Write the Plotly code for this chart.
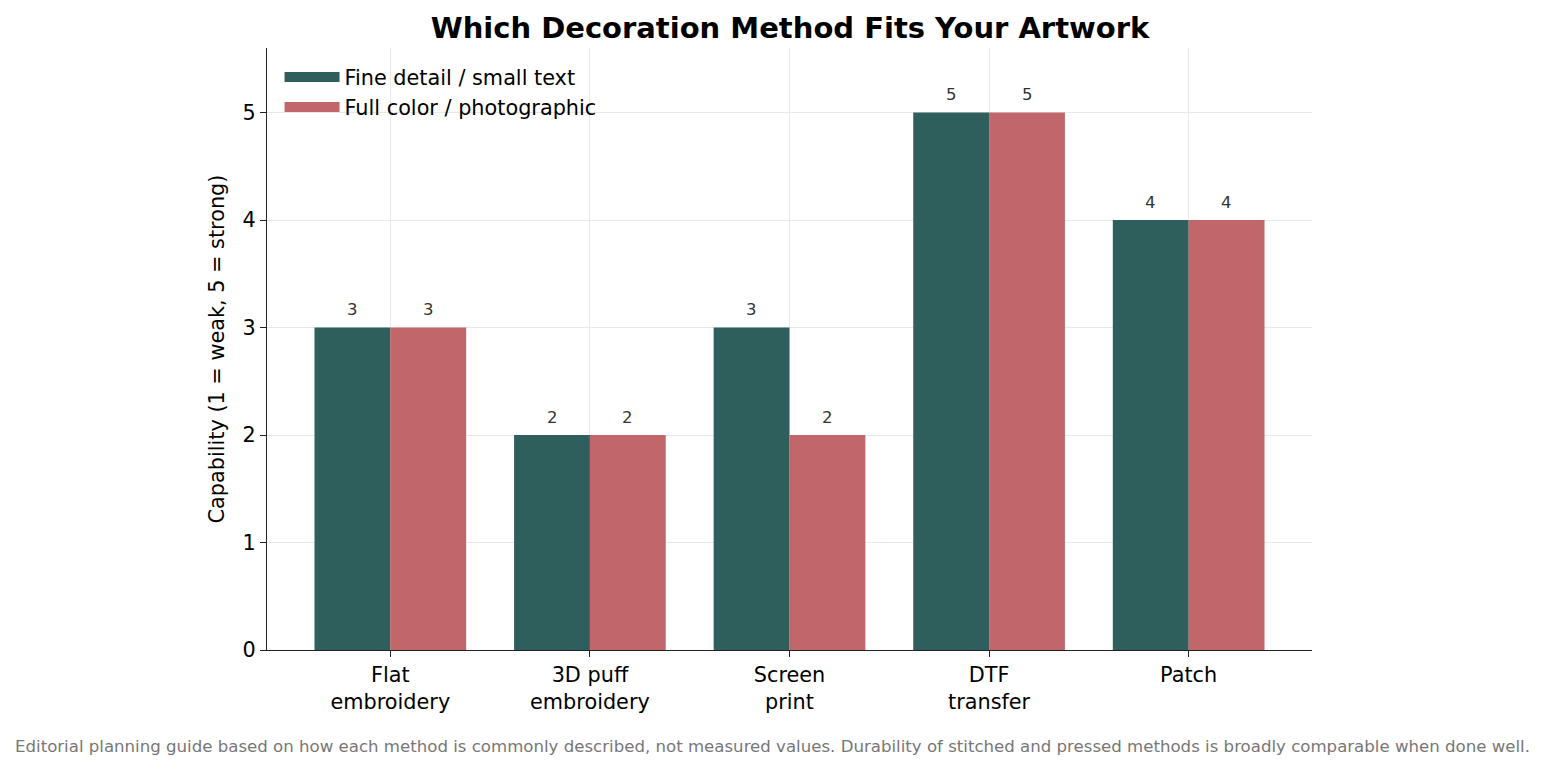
import plotly.graph_objects as go

# data
methods = ["Flat<br>embroidery", "3D puff<br>embroidery", "Screen<br>print", "DTF<br>transfer", "Patch"]
fine_detail = [3, 2, 3, 5, 4]
full_color = [3, 2, 2, 5, 4]
series_names = ["Fine detail / small text", "Full color / photographic"]

teal = "#2e5f5c"
rose = "#c1676b"
xpos = list(range(len(methods)))

fig = go.Figure()
fig.add_trace(go.Bar(x=xpos, y=fine_detail, name=series_names[0], showlegend=False,
                     marker=dict(color=teal, line=dict(width=0)), offset=-0.38, width=0.38))
fig.add_trace(go.Bar(x=xpos, y=full_color, name=series_names[1], showlegend=False,
                     marker=dict(color=rose, line=dict(width=0)), offset=0, width=0.38))
# legend entries drawn as wide swatches, matplotlib style
for name, col in zip(series_names, [teal, rose]):
    fig.add_trace(go.Scatter(x=[None], y=[None], mode="lines", name=name,
                             line=dict(color=col, width=14)))

# value labels above bars
for i, v in enumerate(fine_detail):
    fig.add_annotation(x=i - 0.19, y=v, text=str(v), showarrow=False, yshift=18,
                       font=dict(size=16.5, color="#333333"))
for i, v in enumerate(full_color):
    fig.add_annotation(x=i + 0.19, y=v, text=str(v), showarrow=False, yshift=18,
                       font=dict(size=16.5, color="#333333"))

# footnote, centred on the page
fig.add_annotation(
    text="Editorial planning guide based on how each method is commonly described, not measured values. "
         "Durability of stitched and pressed methods is broadly comparable when done well.",
    xref="paper", yref="paper", x=(772 - 267) / (1312 - 267), y=-(746 - 650) / (650 - 48),
    xanchor="center", yanchor="middle",
    showarrow=False, font=dict(size=16.6, color="#777777"))

fig.update_layout(
    width=1537, height=762,
    paper_bgcolor="white", plot_bgcolor="white",
    font=dict(family="DejaVu Sans", size=20.8, color="#000000"),
    title=dict(text="<b>Which Decoration Method Fits Your Artwork</b>", x=(790 - 8) / 1537, xanchor="center",
               y=1 - 20 / 762, yanchor="middle", font=dict(size=29)),
    margin=dict(l=259, r=233, t=40, b=120),
    showlegend=True,
    legend=dict(x=0.012, y=0.985, xanchor="left", yanchor="top", bgcolor="rgba(0,0,0,0)",
                font=dict(size=20.8), itemwidth=55, tracegroupgap=0),
    barmode="overlay",
)
fig.update_xaxes(range=[-0.618, 4.618], tickvals=xpos, ticktext=methods,
                 showline=True, linecolor="#222222", linewidth=1.3,
                 ticks="outside", ticklen=6, tickcolor="#222222",
                 showgrid=True, gridcolor="#e8e8e8", zeroline=False)
fig.update_yaxes(range=[0, 5.6], tickvals=[0, 1, 2, 3, 4, 5],
                 title=dict(text="Capability (1 = weak, 5 = strong)", standoff=12, font=dict(size=20.8)),
                 showline=True, linecolor="#222222", linewidth=1.3,
                 ticks="outside", ticklen=6, tickcolor="#222222",
                 showgrid=True, gridcolor="#e8e8e8", zeroline=False)

fig.write_html("out.html")
